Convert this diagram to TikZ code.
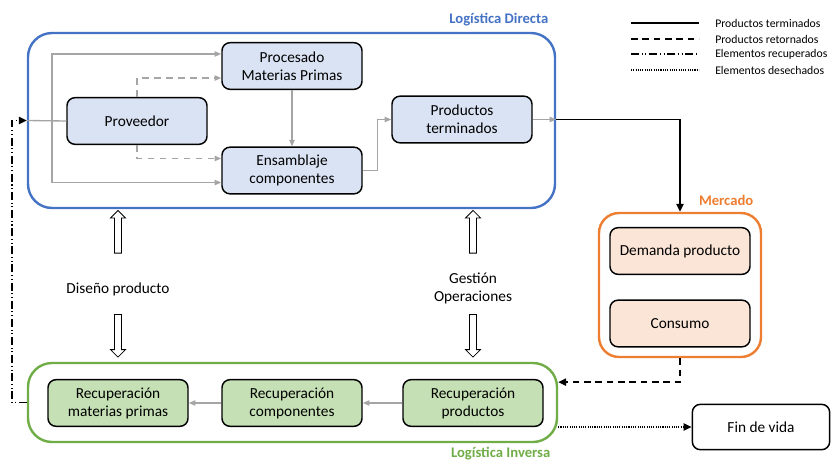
\documentclass[tikz,border=0pt]{standalone}
\usepackage{fontspec}
\setmainfont{Carlito}
\usetikzlibrary{arrows.meta,shapes.arrows,calc}
\definecolor{dirblue}{HTML}{4472C4}
\definecolor{invgreen}{HTML}{70AD47}
\definecolor{mkorange}{HTML}{ED7D31}
\definecolor{boxblue}{HTML}{DAE3F3}
\definecolor{boxgreen}{HTML}{C5E0B4}
\definecolor{boxorange}{HTML}{FBE5D6}
\definecolor{flowgrey}{HTML}{A5A5A5}
\tikzset{
  stage/.style={draw=black, line width=1.1pt, rounded corners=6pt,
    minimum width=105pt, minimum height=35pt, align=center,
    font=\fontsize{11.5}{13.5}\selectfont, inner sep=1pt},
  bluebox/.style={stage, fill=boxblue},
  greenbox/.style={stage, fill=boxgreen},
  orangebox/.style={stage, fill=boxorange},
  area/.style={line width=1.8pt, rounded corners=18pt, inner sep=0pt},
  areatitle/.style={font=\bfseries\fontsize{11}{12}\selectfont},
  greyflow/.style={draw=flowgrey, line width=1pt, -{Triangle[length=5pt,width=4pt]}},
  greyline/.style={draw=flowgrey, line width=1pt},
  blackflow/.style={draw=black, line width=1.1pt, -{Triangle[length=6pt,width=5.5pt]}},
  legline/.style={line width=1.1pt},
  legtext/.style={anchor=west, font=\fontsize{8.8}{10}\selectfont, inner sep=0pt},
  recycle/.style={dash pattern=on 6pt off 2pt on 0.8pt off 2pt on 0.8pt off 2pt},
  finedots/.style={dash pattern=on 0.8pt off 0.9pt},
  hollow/.style={draw=black, fill=white, line width=0.6pt, single arrow,
    minimum height=32pt, inner xsep=0pt, inner ysep=2.3pt,
    single arrow head extend=3pt, single arrow head indent=0pt,
    single arrow tip angle=90},
  plain/.style={font=\fontsize{11.5}{13.5}\selectfont, align=center}
}
\begin{document}
\begin{tikzpicture}[x=0.75pt,y=-0.75pt]
\useasboundingbox (0,0) rectangle (836,461);

% areas
\node[area, draw=dirblue, minimum width=527*0.75pt, minimum height=175*0.75pt] (Directa) at (291.5,120.5) {};
\node[area, draw=invgreen, minimum width=529*0.75pt, minimum height=79*0.75pt] (Inversa) at (292.5,402.5) {};
\node[area, draw=mkorange, rounded corners=15pt, minimum width=162*0.75pt, minimum height=144*0.75pt] (Mercado) at (680,285) {};

\node[areatitle, text=dirblue, anchor=east] (tDir) at (553,20) {Logística Directa};
\node[areatitle, text=invgreen, anchor=east] (tInv) at (555,454) {Logística Inversa};
\node[areatitle, text=mkorange, anchor=east] (tMer) at (758,200) {Mercado};

% forward logistics stages
\node[bluebox] (Proveedor) at (137,121) {Proveedor};
\node[bluebox] (Procesado) at (292,66) {Procesado\\Materias Primas};
\node[bluebox] (Ensamblaje) at (292,170.5) {Ensamblaje\\componentes};
\node[bluebox] (Productos) at (462,119.5) {Productos\\terminados};

% market
\node[orangebox] (Demanda) at (680,251) {Demanda producto};
\node[orangebox] (Consumo) at (680,323.5) {Consumo};

% reverse logistics stages
\node[greenbox] (RecMat) at (118,403) {Recuperación\\materias primas};
\node[greenbox] (RecComp) at (292,403) {Recuperación\\componentes};
\node[greenbox] (RecProd) at (473,403) {Recuperación\\productos};

\node[draw=black, line width=1.1pt, rounded corners=6pt, minimum width=103pt, minimum height=34pt,
  font=\fontsize{11.5}{13.5}\selectfont] (Fin) at (761,427) {Fin de vida};

% forward flows
\coordinate (j) at (52,120.5);
\draw[greyline] (Directa.west) -- (Proveedor.west);
\draw[greyflow] (j) |- ($(Procesado.north west)!0.25!(Procesado.south west)$);
\draw[greyflow] (j) |- ($(Ensamblaje.north west)!0.75!(Ensamblaje.south west)$);
\draw[greyflow, dash pattern=on 5pt off 4pt] (Proveedor.north) |- ($(Procesado.north west)!0.75!(Procesado.south west)$);
\draw[greyflow, dash pattern=on 5pt off 4pt] (Proveedor.south) |- ($(Ensamblaje.north west)!0.25!(Ensamblaje.south west)$);
\draw[greyflow] (Procesado.south) -- (Ensamblaje.north);
\draw[greyflow] (Ensamblaje.east) -- ++(15,0) |- (Productos.west);
\draw[greyflow] (Productos.east) -- (Productos.east -| Directa.east);

% to the market and back
\draw[blackflow] (Productos.east -| Directa.east) -| (Mercado.north);
\draw[blackflow, dash pattern=on 5pt off 3.5pt] (Mercado.south) |- ($(Inversa.north east)!0.25!(Inversa.south east)$);
\draw[blackflow, finedots] (Inversa.east |- Fin.west) -- (Fin.west);
\draw[blackflow, recycle] (Inversa.west) -- ++(-15,0) |- (Directa.west);

% reverse flows
\draw[greyflow] (RecProd.west) -- (RecComp.east);
\draw[greyflow] (RecComp.west) -- (RecMat.east);

% interfaces
\node[plain] (Diseno) at (118,289) {Diseño producto};
\node[plain] (Gestion) at (473,288) {Gestión\\Operaciones};
\node[hollow, rotate=90] (aUpL) at (118,233.5) {};
\node[hollow, rotate=-90] (aDnL) at (118,334) {};
\node[hollow, rotate=90] (aUpR) at (473,233.5) {};
\node[hollow, rotate=-90] (aDnR) at (473,334) {};

% legend
\coordinate (l1a) at (631,23); \coordinate (l1b) at (699,23);
\coordinate (l2a) at (631,39); \coordinate (l2b) at (699,39);
\coordinate (l3a) at (631,54); \coordinate (l3b) at (699,54);
\coordinate (l4a) at (631,70); \coordinate (l4b) at (699,70);
\draw[legline] (l1a) -- (l1b);
\draw[legline, dash pattern=on 5pt off 3.5pt] (l2a) -- (l2b);
\draw[legline, recycle] (l3a) -- (l3b);
\draw[legline, finedots] (l4a) -- (l4b);
\node[legtext] (t1) at (715,23) {Productos terminados};
\node[legtext] (t2) at (715,39) {Productos retornados};
\node[legtext] (t3) at (715,54) {Elementos recuperados};
\node[legtext] (t4) at (715,70) {Elementos desechados};
\end{tikzpicture}
\end{document}
